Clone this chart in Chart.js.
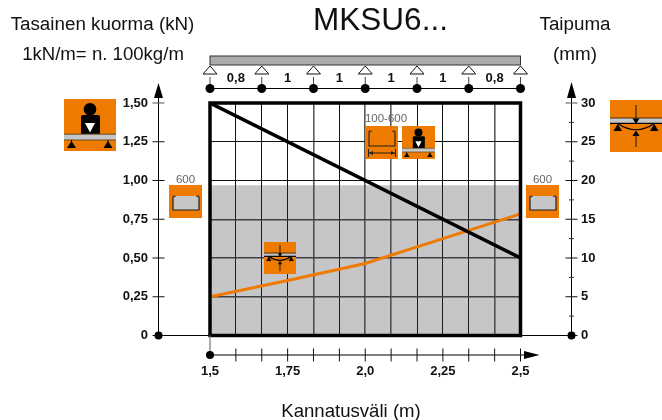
<!DOCTYPE html>
<html>
<head>
<meta charset="utf-8">
<title>MKSU6</title>
<script src="https://cdn.jsdelivr.net/npm/chart.js@4"></script>
<style>
    html, body { margin: 0; padding: 0; background: #fff; }
    canvas { display: block; }
</style>
</head>
<body>
<canvas id="kuormaChart" width="662" height="420"></canvas>
<script>
const spanTicks = [1.5, 1.5833, 1.6667, 1.75, 1.8333, 1.9167, 2, 2.0833, 2.1667, 2.25, 2.3333, 2.4167, 2.5];
const spanLabels = ['1,5', '', '', '1,75', '', '', '2,0', '', '', '2,25', '', '', '2,5'];
const softSpanTicks = [1.8333, 2, 2.0833, 2.4167];
const softLoadTicks = [0.25, 0.5, 0.75];

const loadTicks = [0, 0.25, 0.5, 0.75, 1, 1.25, 1.5];
const loadLabels = ['0', '0,25', '0,50', '0,75', '1,00', '1,25', '1,50'];
const deflectionTicks = [0, 5, 10, 15, 20, 25, 30];
const deflectionMinorTicks = [2.5, 7.5, 12.5, 17.5, 22.5, 27.5];

const loadSpans = [1.5, 2.5];
const loadValues = [1.5, 0.5];
const limitSpans = [1.5, 2.5];
const limitValues = [0.97, 0.97];
const deflectionSpans = [1.5, 1.75, 2, 2.25, 2.5];
const deflectionValues = [5, 7.1, 9.3, 12.5, 15.7];

const supportSpans = [1.5, 1.6667, 1.8333, 2, 2.1667, 2.3333, 2.5];
const supportLabels = ['0,8', '1', '1', '1', '1', '0,8'];

const FONT = '"Liberation Sans", Arial, sans-serif';
const ORANGE = '#ee7a00';
const INK = '#111111';

function toPoints(xs, ys) {
    return xs.map((x, i) => ({ x: x, y: ys[i] }));
}

function tri(ctx, x1, y1, x2, y2, x3, y3, fill, stroke) {
    ctx.beginPath();
    ctx.moveTo(x1, y1);
    ctx.lineTo(x2, y2);
    ctx.lineTo(x3, y3);
    ctx.closePath();
    ctx.fillStyle = fill;
    ctx.fill();
    if (stroke) {
        ctx.strokeStyle = stroke;
        ctx.lineWidth = 1;
        ctx.stroke();
    }
}

function line(ctx, x1, y1, x2, y2, color, width) {
    ctx.beginPath();
    ctx.moveTo(x1, y1);
    ctx.lineTo(x2, y2);
    ctx.strokeStyle = color;
    ctx.lineWidth = width;
    ctx.stroke();
}

function dot(ctx, x, y, r) {
    ctx.beginPath();
    ctx.arc(x, y, r, 0, Math.PI * 2);
    ctx.fillStyle = '#000';
    ctx.fill();
}

function label(ctx, text, x, y, font, color, align) {
    ctx.font = font;
    ctx.fillStyle = color || INK;
    ctx.textAlign = align || 'center';
    ctx.textBaseline = 'middle';
    ctx.fillText(text, x, y);
}

// icons are sketched on a 52 unit square, then scaled
function personIcon(ctx, x, y, size) {
    ctx.save();
    ctx.translate(x, y);
    ctx.scale(size / 52, size / 52);
    ctx.fillStyle = ORANGE;
    ctx.fillRect(0, 0, 52, 52);
    dot(ctx, 26, 10.3, 6.3);
    ctx.fillStyle = '#000';
    ctx.beginPath();
    ctx.roundRect(17, 16, 19, 20, 2);
    ctx.fill();
    tri(ctx, 21, 24, 31, 24, 26, 33.5, '#fff');
    ctx.fillStyle = '#c5c6c8';
    ctx.fillRect(0, 35, 52, 6);
    line(ctx, 0, 35.2, 52, 35.2, '#6b4a20', 1);
    line(ctx, 0, 41, 52, 41, '#6b4a20', 1.2);
    line(ctx, 7.5, 41, 7.5, 45, '#000', 1);
    line(ctx, 44, 41, 44, 45, '#000', 1);
    tri(ctx, 3, 49, 12, 49, 7.5, 42, '#000');
    tri(ctx, 39.5, 49, 48.5, 49, 44, 42, '#000');
    ctx.restore();
}

function deflectionIcon(ctx, x, y, size, weight) {
    ctx.save();
    ctx.translate(x, y);
    ctx.scale(size / 52, size / 52);
    ctx.fillStyle = ORANGE;
    ctx.fillRect(0, 0, 52, 52);
    ctx.fillStyle = '#c5c6c8';
    ctx.fillRect(0, 18, 52, 5);
    line(ctx, 0, 18, 52, 18, '#4a3010', weight);
    line(ctx, 0, 23.3, 52, 23.3, '#000', 1.2 * weight);
    tri(ctx, 3.5, 31, 12, 31, 7.7, 24, '#000');
    tri(ctx, 40, 31, 48.5, 31, 44.3, 24, '#000');
    ctx.beginPath();
    ctx.moveTo(7.7, 23.5);
    ctx.quadraticCurveTo(26, 36, 44.3, 23.5);
    ctx.strokeStyle = '#000';
    ctx.lineWidth = 1.2 * weight;
    ctx.stroke();
    line(ctx, 26, 5, 26, 19, '#3a2508', 1.2 * weight);
    tri(ctx, 22.5, 18.5, 29.5, 18.5, 26, 24, '#000');
    tri(ctx, 22.5, 36, 29.5, 36, 26, 30.5, '#000');
    line(ctx, 26, 35, 26, 47, '#3a2508', 1.2 * weight);
    ctx.restore();
}

function channelPath(ctx, left, right, top, bottom) {
    ctx.beginPath();
    ctx.moveTo(left + 2.5, top + 2);
    ctx.quadraticCurveTo(left + 1, top, left, top + 2);
    ctx.lineTo(left, bottom);
    ctx.lineTo(right, bottom);
    ctx.lineTo(right, top + 2);
    ctx.quadraticCurveTo(right - 1, top, right - 2.5, top + 2);
}

function channelIcon(ctx, x, y) {
    ctx.fillStyle = ORANGE;
    ctx.fillRect(x, y, 33, 33);
    ctx.fillStyle = '#c5c6c8';
    ctx.fillRect(x + 4, y + 11, 26, 14);
    channelPath(ctx, x + 4, x + 30, y + 10, y + 25);
    ctx.strokeStyle = '#222';
    ctx.lineWidth = 1.2;
    ctx.stroke();
}

function widthIcon(ctx, x, y) {
    ctx.fillStyle = ORANGE;
    ctx.fillRect(x, y, 33, 33);
    channelPath(ctx, x + 4, x + 30, y + 4, y + 20);
    ctx.strokeStyle = '#222';
    ctx.lineWidth = 1.1;
    ctx.stroke();
    line(ctx, x + 4, y + 27, x + 30, y + 27, '#222', 1);
    line(ctx, x + 3.5, y + 23, x + 3.5, y + 31, '#222', 1);
    line(ctx, x + 30.5, y + 23, x + 30.5, y + 31, '#222', 1);
    tri(ctx, x + 4, y + 27, x + 8, y + 25, x + 8, y + 29, '#222');
    tri(ctx, x + 30, y + 27, x + 26, y + 25, x + 26, y + 29, '#222');
}

const decorPlugin = {
    id: 'decor',
    afterDraw(chart) {
        const ctx = chart.ctx;
        const { left, right, top, bottom } = chart.chartArea;
        const xs = chart.scales.x;
        const yl = chart.scales.y;
        const yr = chart.scales.y2;
        const leftAxis = 158.5, rightAxis = 571.5, spanAxis = 355;

        ctx.save();

        // frame of the graph
        ctx.strokeStyle = '#000';
        ctx.lineWidth = 3.5;
        ctx.strokeRect(left, top, right - left, bottom - top);

        // zero line and load axis
        line(ctx, leftAxis, bottom, rightAxis, bottom, '#000', 1);
        line(ctx, leftAxis, bottom, leftAxis, 95, '#000', 1);
        tri(ctx, leftAxis - 4.5, 98, leftAxis + 4.5, 98, leftAxis, 83, '#000');
        loadTicks.forEach(v => {
            line(ctx, leftAxis - 6, yl.getPixelForValue(v), leftAxis + 6, yl.getPixelForValue(v), v === 1.5 ? '#555' : '#111', 1);
        });
        dot(ctx, leftAxis, bottom, 4);

        // deflection axis
        line(ctx, rightAxis, bottom, rightAxis, 95, '#000', 1);
        tri(ctx, rightAxis - 4.5, 98, rightAxis + 4.5, 98, rightAxis, 82, '#000');
        deflectionTicks.forEach(v => {
            line(ctx, rightAxis - 6, yr.getPixelForValue(v), rightAxis + 6, yr.getPixelForValue(v), v === 30 ? '#555' : '#111', 1);
        });
        deflectionMinorTicks.forEach(v => {
            line(ctx, rightAxis - 2.5, yr.getPixelForValue(v), rightAxis + 2.5, yr.getPixelForValue(v), '#333', 1);
        });
        dot(ctx, rightAxis, bottom, 4);

        // span axis below the graph
        line(ctx, left, bottom, left, spanAxis, '#777', 1.2);
        line(ctx, left, spanAxis, right + 6, spanAxis, '#555', 1.5);
        spanTicks.forEach((v, i) => {
            if (i > 0) line(ctx, xs.getPixelForValue(v), spanAxis - 6.5, xs.getPixelForValue(v), spanAxis + 6.5, '#111', 1);
        });
        tri(ctx, 524, spanAxis - 4, 524, spanAxis + 4, 539.5, spanAxis, '#000');
        dot(ctx, left, spanAxis, 4);

        // beam with its supports
        ctx.fillStyle = '#aaabad';
        ctx.fillRect(left, 56, right - left, 9);
        ctx.strokeStyle = '#333';
        ctx.lineWidth = 1;
        ctx.strokeRect(left, 56, right - left, 9);
        line(ctx, left, 88.5, right, 88.5, '#000', 1);
        supportSpans.forEach(v => {
            const px = xs.getPixelForValue(v);
            tri(ctx, px - 7, 74, px + 7, 74, px, 66, '#fff', '#111');
            line(ctx, px, 77, px, 88, '#444', 1);
            dot(ctx, px, 88.5, 4.5);
        });
        supportLabels.forEach((t, i) => {
            const mid = (xs.getPixelForValue(supportSpans[i]) + xs.getPixelForValue(supportSpans[i + 1])) / 2;
            label(ctx, t, mid, 78, 'bold 13px ' + FONT);
        });

        // titles
        label(ctx, 'MKSU6...', 380.5, 21.5, '31.5px ' + FONT);
        label(ctx, 'Tasainen kuorma (kN)', 102.5, 25, '18.8px ' + FONT);
        label(ctx, '1kN/m= n. 100kg/m', 103, 55, '18.6px ' + FONT);
        label(ctx, 'Taipuma', 575, 25, '18.8px ' + FONT);
        label(ctx, '(mm)', 575, 55, '18.8px ' + FONT);
        label(ctx, 'Kannatusväli (m)', 351, 412, '18.6px ' + FONT);

        // orange symbols
        personIcon(ctx, 64, 99, 52);
        deflectionIcon(ctx, 610, 100, 52, 1);
        deflectionIcon(ctx, 264, 242, 32, 1.6);
        channelIcon(ctx, 169, 185);
        channelIcon(ctx, 526, 185);
        label(ctx, '600', 185.5, 180, '11.5px ' + FONT, '#666');
        label(ctx, '600', 542.5, 180, '11.5px ' + FONT, '#666');
        widthIcon(ctx, 365, 126);
        personIcon(ctx, 402, 126, 33);
        label(ctx, '100-600', 386, 119, '11.5px ' + FONT, '#666');

        ctx.restore();
    }
};

new Chart(document.getElementById('kuormaChart').getContext('2d'), {
    type: 'line',
    data: {
        datasets: [
            {
                label: 'Kuorma',
                data: toPoints(loadSpans, loadValues),
                yAxisID: 'y',
                borderColor: '#000',
                borderWidth: 3.5,
                pointRadius: 0,
                fill: false
            },
            {
                label: 'Taipuma',
                data: toPoints(deflectionSpans, deflectionValues),
                yAxisID: 'y2',
                borderColor: ORANGE,
                borderWidth: 3,
                pointRadius: 0,
                fill: false
            },
            {
                label: 'Raja',
                data: toPoints(limitSpans, limitValues),
                yAxisID: 'y',
                borderWidth: 0,
                pointRadius: 0,
                fill: 'origin',
                backgroundColor: 'rgba(50, 50, 56, 0.28)'
            }
        ]
    },
    options: {
        responsive: false,
        animation: false,
        layout: { padding: { top: 103 } },
        plugins: {
            legend: { display: false },
            tooltip: { enabled: false }
        },
        scales: {
            x: {
                type: 'linear',
                min: 1.5,
                max: 2.5,
                afterBuildTicks: axis => { axis.ticks = spanTicks.map(v => ({ value: v })); },
                afterFit: axis => { axis.height = 84.5; },
                border: { display: false },
                grid: {
                    drawTicks: false,
                    color: c => softSpanTicks.includes(c.tick.value) ? '#5c5c5c' : '#111',
                    lineWidth: c => softSpanTicks.includes(c.tick.value) ? 1.6 : 1
                },
                ticks: {
                    padding: 28,
                    autoSkip: false,
                    maxRotation: 0,
                    color: INK,
                    font: { family: FONT, size: 13, weight: 'bold' },
                    callback: (value, index) => spanLabels[index]
                }
            },
            y: {
                position: 'left',
                min: 0,
                max: 1.5,
                afterBuildTicks: axis => { axis.ticks = loadTicks.map(v => ({ value: v })); },
                afterFit: axis => { axis.width = 210; },
                border: { display: false },
                grid: {
                    drawTicks: false,
                    color: c => softLoadTicks.includes(c.tick.value) ? '#444' : '#111',
                    lineWidth: c => softLoadTicks.includes(c.tick.value) ? 1.4 : 1
                },
                ticks: {
                    padding: 62,
                    color: INK,
                    font: { family: FONT, size: 13, weight: 'bold' },
                    callback: (value, index) => loadLabels[index]
                }
            },
            y2: {
                position: 'right',
                min: 0,
                max: 30,
                afterBuildTicks: axis => { axis.ticks = deflectionTicks.map(v => ({ value: v })); },
                afterFit: axis => { axis.width = 141.5; },
                border: { display: false },
                grid: { display: false, drawTicks: false },
                ticks: {
                    padding: 60.5,
                    color: INK,
                    font: { family: FONT, size: 13, weight: 'bold' }
                }
            }
        }
    },
    plugins: [decorPlugin]
});
</script>
</body>
</html>
